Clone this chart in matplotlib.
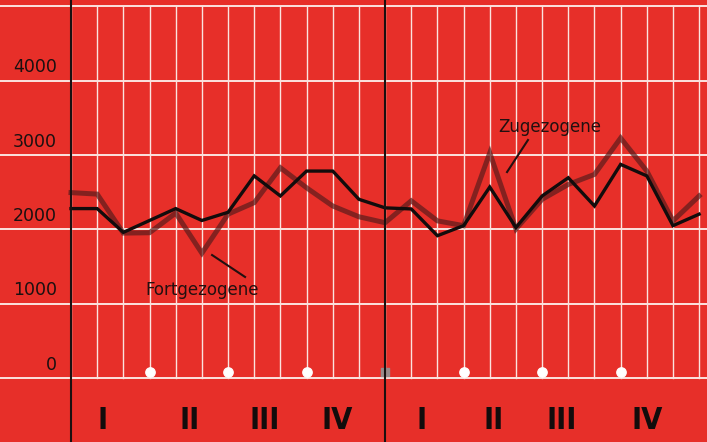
import matplotlib.pyplot as plt

# Monatswerte, zwei Jahre (25 Punkte: Jan Jahr 1 ... Jan Jahr 3)
months = list(range(25))
black_series = [2280, 2280, 1960, 2120, 2280, 2120, 2230, 2720, 2450, 2785, 2785, 2405,
                2290, 2275, 1915, 2050, 2570, 2025, 2450, 2695, 2315, 2875, 2720, 2050, 2205]
gray_series = [2495, 2475, 1950, 1955, 2220, 1680, 2205, 2360, 2830, 2560, 2315, 2170,
               2090, 2385, 2115, 2050, 3030, 2005, 2405, 2605, 2740, 3230, 2785, 2115, 2450]

y_ticks = [0, 1000, 2000, 3000, 4000, 5000]
y_labels = ["0", "1000", "2000", "3000", "4000", ""]
quarter_marks = [3, 6, 9, 15, 18, 21]
quarter_pos = [1.22, 4.55, 7.41, 10.16, 13.41, 16.13, 18.76, 22.01]
quarter_labels = ["I", "II", "III", "IV", "I", "II", "III", "IV"]

red = "#e72f29"
white = "#fbe3df"

fig = plt.figure(figsize=(7.07, 4.42), dpi=100, facecolor=red)
ax = fig.add_axes([0, 0, 1, 1])
ax.set_facecolor(red)
ax.set_xlim(-2.713, 24.30)
ax.set_ylim(-861, 5087)
ax.axis("off")

# Raster
for v in y_ticks:
    ax.axhline(v, color=white, lw=1.4, zorder=1)
for m in months:
    ax.plot([m, m], [0, 5000], color=white, lw=1.0, zorder=1)
ax.scatter(quarter_marks, [80] * len(quarter_marks), s=45, color="white", zorder=2)
ax.scatter([12], [80], s=40, marker="s", color="#9a8a8a", zorder=2)

# Achsen / Jahrestrenner
for m in (0, 12):
    ax.axvline(m, color="#1a1010", lw=1.5, zorder=5)

# Kurven
ax.plot(months, gray_series, color="#5a1c1c", lw=3.6, alpha=0.7, zorder=3,
        solid_joinstyle="miter")
ax.plot(months, black_series, color="#120c0c", lw=2.4, zorder=4,
        solid_joinstyle="miter")

# Beschriftungen
for v, lab in zip(y_ticks, y_labels):
    ax.text(-0.53, v + 60, lab, ha="right", va="bottom", fontsize=12.5, color="#1a1010")

for x, lab in zip(quarter_pos, quarter_labels):
    ax.text(x, -565, lab, ha="center", va="center", fontsize=22, fontweight="heavy",
            fontstretch="condensed", color="#120c0c")

ax.text(5.0, 1190, "Fortgezogene", ha="center", va="center", fontsize=12, color="#221010")
ax.plot([5.39, 6.65], [1655, 1360], color="#221010", lw=1.5, zorder=4)
ax.text(18.3, 3378, "Zugezogene", ha="center", va="center", fontsize=12, color="#221010")
ax.plot([17.46, 16.66], [3203, 2772], color="#221010", lw=1.5, zorder=4)

fig.savefig("out.png", dpi=100, facecolor=red)
